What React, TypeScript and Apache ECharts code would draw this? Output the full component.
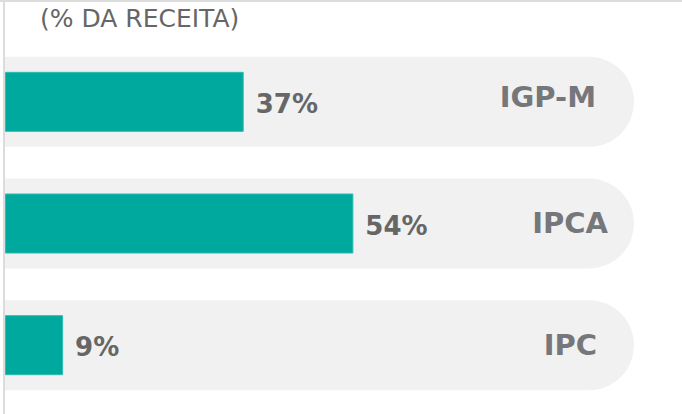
import React, { useEffect, useRef } from "react";
import * as echarts from "echarts";

const categories = ["IGP-M", "IPCA", "IPC"];
const values = [37, 54, 9];
const trackMax = 97.5;
const titleText = "(% DA RECEITA)";

export default function App() {
  const ref = useRef<HTMLDivElement>(null);
  useEffect(() => {
    if (!ref.current) return;
    const chart = echarts.init(ref.current, undefined, { renderer: "svg" });
    const catOffsets = [
      [-38, -5],
      [-26, -1],
      [-37, 0],
    ];
    chart.setOption({
      animation: false,
      backgroundColor: "#ffffff",
      title: {
        text: titleText,
        left: 35,
        top: 1,
        textStyle: {
          fontFamily: "DejaVu Sans",
          fontSize: 25,
          fontWeight: "normal",
          color: "#666666",
        },
      },
      graphic: [
        { type: "rect", shape: { x: 0, y: 0, width: 682, height: 2 }, style: { fill: "#dcdcdc" }, z: 100 },
        { type: "rect", shape: { x: 3, y: 0, width: 2, height: 414 }, style: { fill: "#dcdcdc" }, z: 100 },
      ],
      grid: { left: 5, right: 48, top: 41, bottom: 8, containLabel: false },
      xAxis: {
        type: "value",
        min: 0,
        max: trackMax,
        show: false,
      },
      yAxis: [
        { type: "category", data: categories, inverse: true, show: false },
        { type: "category", data: categories, inverse: true, show: false },
      ],
      series: [
        {
          type: "bar",
          yAxisIndex: 1,
          silent: true,
          barWidth: 90,
          data: categories.map((c, i) => ({
            value: trackMax,
            label: { offset: catOffsets[i] },
          })),
          itemStyle: { color: "#f1f1f1", borderRadius: [0, 45, 45, 0] },
          label: {
            show: true,
            position: "insideRight",
            distance: 0,
            formatter: (p: any) => categories[p.dataIndex],
            fontFamily: "DejaVu Sans",
            fontSize: 29,
            fontWeight: "bold",
            color: "#76777b",
          },
          z: 1,
        },
        {
          type: "bar",
          yAxisIndex: 0,
          barWidth: 60,
          data: values,
          itemStyle: { color: "#00a99d", borderColor: "#2bbcb1", borderWidth: 1 },
          label: {
            show: true,
            position: "right",
            distance: 12,
            offset: [0, 2],
            formatter: (p: any) => `${p.value}%`,
            fontFamily: "DejaVu Sans",
            fontSize: 26,
            fontWeight: "bold",
            color: "#666666",
          },
          z: 2,
        },
      ],
    });
    return () => chart.dispose();
  }, []);
  return (
    <div
      ref={ref}
      style={{ position: "absolute", left: 0, top: 0, width: 682, height: 414 }}
    />
  );
}
